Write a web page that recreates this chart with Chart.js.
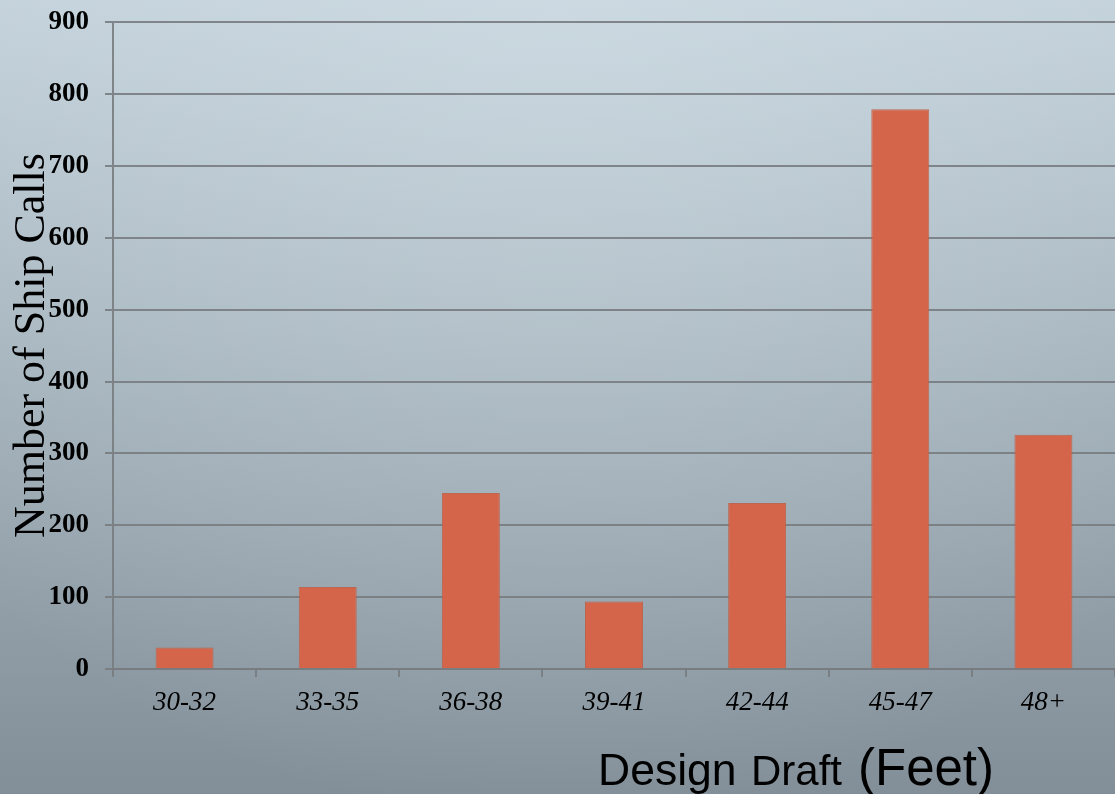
<!DOCTYPE html>
<html>
<head>
<meta charset="utf-8">
<script src="https://cdn.jsdelivr.net/npm/chart.js@4.4.1/dist/chart.umd.min.js"></script>
<style>
  html, body { margin: 0; padding: 0; width: 1115px; height: 794px; overflow: hidden; background: #9aa8b1; }
  #wrap { position: relative; width: 1115px; height: 794px; overflow: hidden; }
  #chart { position: absolute; left: 0; top: -10px; display: block; }
</style>
</head>
<body>
<div id="wrap"><canvas id="chart" width="1115" height="804"></canvas></div>
<script>
// Ship calls by design draft range
const draftRanges = ['30-32', '33-35', '36-38', '39-41', '42-44', '45-47', '48+'];
const shipCalls = [30, 114, 245, 94, 231, 779, 326];
const yTicks = [0, 100, 200, 300, 400, 500, 600, 700, 800, 900];

const GRID = 'rgba(120,124,128,0.9)';
const BAR = '#d4654a';

// Slide-style backdrop: cool light grey-blue at the top fading to darker slate
const backdrop = {
  id: 'backdrop',
  beforeDraw(chart) {
    const { ctx, width, height } = chart;
    ctx.save();
    const lin = ctx.createLinearGradient(0, 0, 0, height);
    lin.addColorStop(0, '#c3d1da');
    lin.addColorStop(0.5, '#a2b0b9');
    lin.addColorStop(1, '#828f98');
    ctx.fillStyle = lin;
    ctx.fillRect(0, 0, width, height);
    const rad = ctx.createRadialGradient(width * 0.5, 0, 10, width * 0.5, 0, width * 0.75);
    rad.addColorStop(0, 'rgba(215,228,236,0.45)');
    rad.addColorStop(1, 'rgba(215,228,236,0)');
    ctx.fillStyle = rad;
    ctx.fillRect(0, 0, width, height);
    ctx.restore();
  }
};

// Axis caption under the categories, with a smaller middle word
const xCaption = {
  id: 'xCaption',
  afterDraw(chart) {
    const { ctx } = chart;
    const parts = [
      { t: 'Design', size: 44.5, x: 598 },
      { t: 'Draft', size: 42, x: 751 },
      { t: '(Feet)', size: 51, x: 858 }
    ];
    ctx.save();
    ctx.fillStyle = '#000';
    ctx.textBaseline = 'alphabetic';
    ctx.textAlign = 'left';
    parts.forEach(p => {
      ctx.font = p.size + 'px "Liberation Sans", Arial, sans-serif';
      ctx.fillText(p.t, p.x, 795);
    });
    ctx.restore();
  }
};

new Chart(document.getElementById('chart'), {
  type: 'bar',
  data: {
    labels: draftRanges,
    datasets: [{
      data: shipCalls,
      backgroundColor: BAR,
      borderColor: 'rgba(190,95,70,0.9)',
      borderWidth: 1,
      categoryPercentage: 1,
      barPercentage: 0.405
    }]
  },
  options: {
    responsive: false,
    animation: false,
    layout: { padding: { top: 11, right: 0, left: 0, bottom: 0 } },
    plugins: { legend: { display: false }, tooltip: { enabled: false } },
    scales: {
      x: {
        offset: true,
        grid: { offset: true, drawOnChartArea: false, drawTicks: true, tickLength: 8, color: GRID, lineWidth: 2 },
        border: { display: true, color: GRID, width: 2 },
        ticks: {
          color: '#000',
          padding: 10,
          maxRotation: 0,
          font: { family: '"Liberation Serif", "Times New Roman", serif', size: 27, style: 'italic' }
        },
        afterFit(scale) { scale.height = 125; }
      },
      y: {
        min: 0,
        max: 900,
        afterBuildTicks(scale) { scale.ticks = yTicks.map(v => ({ value: v })); },
        grid: { color: GRID, lineWidth: 2, drawTicks: true, tickLength: 8 },
        border: { display: true, color: GRID, width: 2 },
        ticks: {
          color: '#000',
          padding: 16,
          font: { family: '"Liberation Serif", "Times New Roman", serif', size: 27, weight: 'bold' }
        },
        title: {
          display: true,
          text: 'Number of Ship Calls',
          color: '#000',
          padding: { top: 6, bottom: 0 },
          font: { family: '"Liberation Serif", "Times New Roman", serif', size: 44, weight: 'normal' }
        },
        afterFit(scale) { scale.width = 113; }
      }
    }
  },
  plugins: [backdrop, xCaption]
});
</script>
</body>
</html>
